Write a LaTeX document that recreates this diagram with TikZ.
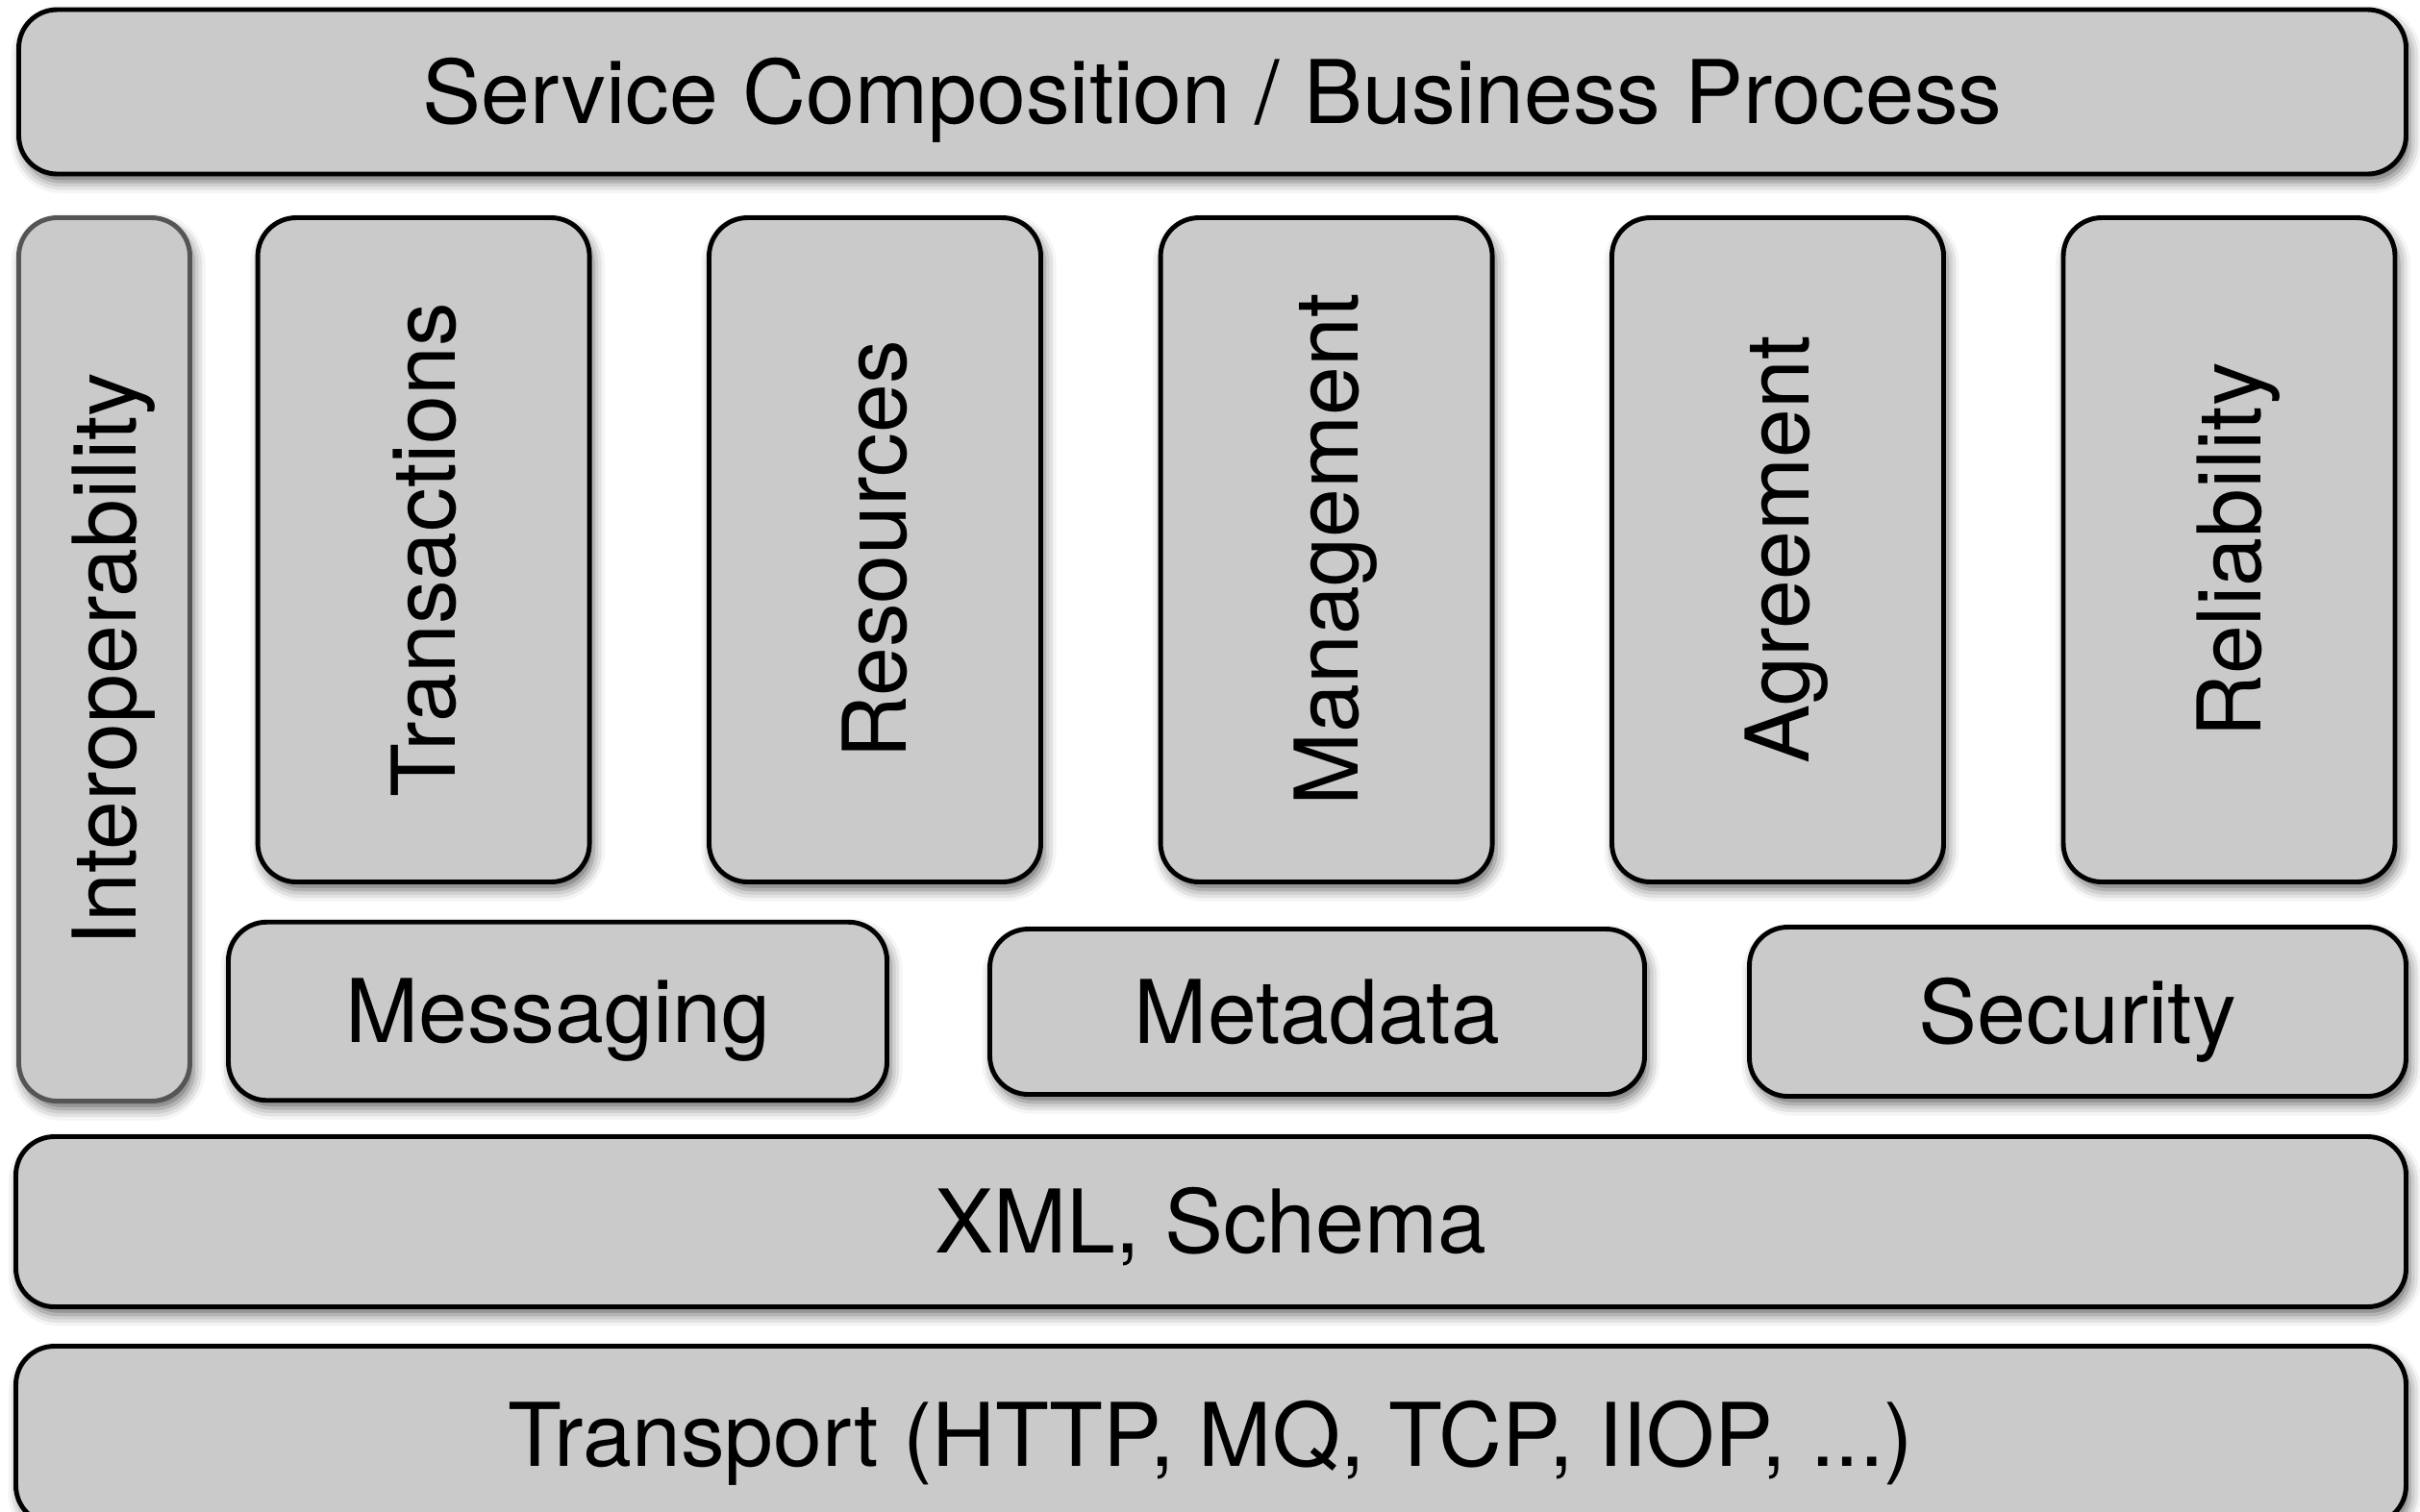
\documentclass[tikz,border=0pt]{standalone}
\usepackage{fontspec}
\setmainfont{TeX Gyre Heros}
\usetikzlibrary{shadows.blur}
\definecolor{layerfill}{RGB}{202,202,202}
\definecolor{sideline}{RGB}{85,85,85}
\newcommand{\uplabel}[1]{\rotatebox{90}{\raisebox{0pt}[0.72em][0pt]{#1}}}
\tikzset{
  layer/.style={draw=black, line width=1.4pt, fill=layerfill, rounded corners=0.4cm,
    inner sep=0pt, font=\fontsize{26}{30}\selectfont,
    blur shadow={shadow xshift=0.04cm, shadow yshift=-0.08cm, shadow blur radius=0.12cm, shadow opacity=60}},
  flat/.style={layer, text height=18.7pt, text depth=0pt},
  column/.style={layer, minimum width=3.45cm, minimum height=6.91cm},
  wide/.style={flat, minimum width=24.86cm}
}
\begin{document}
\begin{tikzpicture}
\path[use as bounding box, clip] (0, 0) rectangle (25.17, -15.72);
\node[wide, minimum width=24.83cm, minimum height=1.71cm](svc) at (12.61, -0.955) {Service Composition / Business Process};
\node[layer, draw=sideline, minimum width=1.78cm, minimum height=9.19cm](interop) at (1.085, -6.86) {\uplabel{Interoperability}};
\node[column](trans) at (4.406, -5.72) {\uplabel{Transactions}};
\node[column](res) at (9.10, -5.72) {\uplabel{Resources}};
\node[column](mgmt) at (13.796, -5.72) {\uplabel{Management}};
\node[column](agree) at (18.49, -5.72) {\uplabel{Agreement}};
\node[column](rel) at (23.185, -5.72) {\uplabel{Reliability}};
\node[flat, minimum width=6.85cm, minimum height=1.855cm](msg) at (5.80, -10.52) {Messaging};
\node[flat, minimum width=6.81cm, minimum height=1.72cm](meta) at (13.70, -10.525) {Metadata};
\node[flat, minimum width=6.83cm, minimum height=1.76cm](sec) at (21.61, -10.525) {Security};
\node[wide, minimum height=1.77cm](xml) at (12.595, -12.71) {XML, Schema};
\node[wide, minimum height=1.85cm](transport) at (12.595, -14.93) {Transport (HTTP, MQ, TCP, IIOP, ...)};
\end{tikzpicture}
\end{document}
